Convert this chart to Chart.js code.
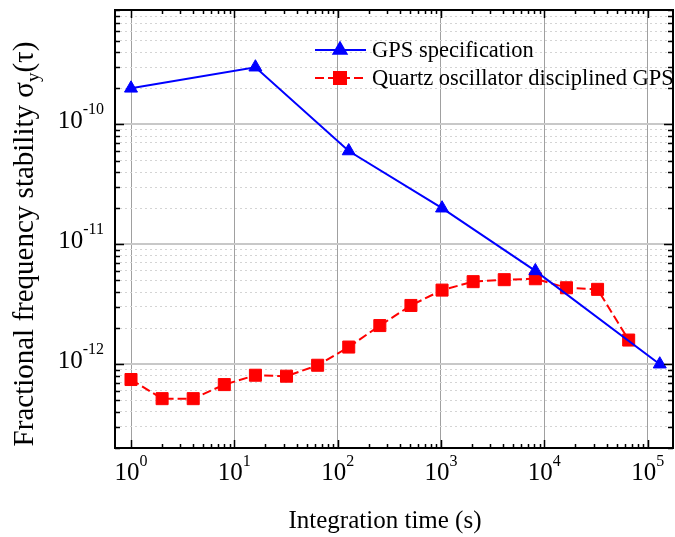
<!DOCTYPE html>
<html>
<head>
<meta charset="utf-8">
<script src="https://cdn.jsdelivr.net/npm/chart.js@4.4.0/dist/chart.umd.min.js"></script>
<style>
  html, body { margin: 0; padding: 0; background: #fff; }
</style>
</head>
<body>
<canvas id="grafico" width="675" height="537"></canvas>
<script>
// datos
const tauGps = [1, 16, 128, 1024, 8192, 131072];
const sigmaGps = [2e-10, 3e-10, 6e-11, 2e-11, 6e-12, 1e-12];
const tauQuartz = [1, 2, 4, 8, 16, 32, 64, 128, 256, 512, 1024, 2048, 4096, 8192, 16384, 32768, 65536];
const sigmaQuartz = [7.45e-13, 5.16e-13, 5.16e-13, 6.76e-13, 8.09e-13, 7.94e-13, 9.8e-13, 1.39e-12, 2.10e-12,
  3.09e-12, 4.15e-12, 4.88e-12, 5.07e-12, 5.16e-12, 4.34e-12, 4.21e-12, 1.59e-12];
const xDecades = [0, 1, 2, 3, 4, 5];
const yDecades = [-13, -12, -11, -10];
const xLabelDecades = [0, 1, 2, 3, 4, 5];
const yLabelDecades = [-12, -11, -10];
const seriesNames = ['GPS specification', 'Quartz oscillator disciplined GPS'];
const xTitle = 'Integration time (s)';
const yTitle = ['Fractional frequency stability σ', 'y', '(τ)'];

const serif = '"Liberation Serif", "Times New Roman", serif';
const xMin = 0.7, xMax = 176000;
const yMin = 2e-13, yMax = 9e-10;

// ticks 1..9 por decada, solo los de 10^n son mayores
const logTicks = (decades, min, max) => {
  const t = [];
  decades.forEach(d => {
    for (let m = 1; m < 10; m++) {
      const v = m * Math.pow(10, d);
      if (v >= min * 0.999 && v <= max * 1.001) t.push({ value: v, major: m === 1 });
    }
  });
  return t;
}

const toPoints = (xs, ys) => xs.map((v, i) => ({ x: v, y: ys[i] }));

const drawPow = (ctx, exp, left, baseline) => {
  ctx.font = '25px ' + serif;
  ctx.fillText('10', left, baseline);
  const wb = ctx.measureText('10').width;
  ctx.font = '16px ' + serif;
  ctx.fillText(String(exp), left + wb, baseline - 14);
}
const powWidth = (ctx, exp) => {
  ctx.font = '25px ' + serif;
  const wb = ctx.measureText('10').width;
  ctx.font = '16px ' + serif;
  return wb + ctx.measureText(String(exp)).width;
}

const ejes = {
  id: 'ejes',
  afterDraw(chart) {
    const { ctx, chartArea: a, scales: { x, y } } = chart;
    ctx.save();
    ctx.strokeStyle = '#000';
    ctx.fillStyle = '#000';

    // marcas hacia adentro en los cuatro lados
    ctx.lineWidth = 1.5;
    ctx.beginPath();
    x.ticks.forEach(t => {
      const px = Math.round(x.getPixelForValue(t.value)) + 0.5;
      const len = t.major ? 8 : 4;
      ctx.moveTo(px, a.bottom); ctx.lineTo(px, a.bottom - len);
      ctx.moveTo(px, a.top); ctx.lineTo(px, a.top + len);
    });
    y.ticks.forEach(t => {
      const py = Math.round(y.getPixelForValue(t.value)) + 0.5;
      const len = t.major ? 9 : 5;
      ctx.moveTo(a.left, py); ctx.lineTo(a.left + len, py);
      ctx.moveTo(a.right, py); ctx.lineTo(a.right - len, py);
    });
    ctx.stroke();

    // marco
    ctx.lineWidth = 2;
    ctx.strokeRect(a.left, a.top, a.right - a.left, a.bottom - a.top);

    // etiquetas 10^n
    ctx.textBaseline = 'alphabetic';
    ctx.textAlign = 'left';
    xLabelDecades.forEach(d => {
      const px = x.getPixelForValue(Math.pow(10, d));
      drawPow(ctx, d, px - powWidth(ctx, d) / 2, 480);
    });
    yLabelDecades.forEach(d => {
      const py = y.getPixelForValue(Math.pow(10, d));
      drawPow(ctx, d, a.left - 11 - powWidth(ctx, d), py + 4);
    });

    // titulo eje x
    ctx.font = '25px ' + serif;
    ctx.textAlign = 'center';
    ctx.fillText(xTitle, 385, 528);

    // titulo eje y con subindice
    ctx.save();
    ctx.translate(33, 244);
    ctx.rotate(-Math.PI / 2);
    ctx.textAlign = 'left';
    ctx.font = '29px ' + serif;
    const w1 = ctx.measureText(yTitle[0]).width;
    const w3 = ctx.measureText(yTitle[2]).width;
    ctx.font = '19px ' + serif;
    const w2 = ctx.measureText(yTitle[1]).width;
    let sx = -(w1 + w2 + w3) / 2;
    ctx.font = '29px ' + serif;
    ctx.fillText(yTitle[0], sx, 0);
    ctx.font = '19px ' + serif;
    ctx.fillText(yTitle[1], sx + w1, 6);
    ctx.font = '29px ' + serif;
    ctx.fillText(yTitle[2], sx + w1 + w2, 0);
    ctx.restore();

    // leyenda
    const rows = [50, 78];
    chart.data.datasets.forEach((ds, i) => {
      const ly = rows[i];
      ctx.save();
      ctx.strokeStyle = ds.borderColor;
      ctx.lineWidth = 2;
      ctx.setLineDash(ds.borderDash || []);
      ctx.beginPath();
      ctx.moveTo(315, ly); ctx.lineTo(366, ly);
      ctx.stroke();
      ctx.setLineDash([]);
      ctx.fillStyle = ds.backgroundColor;
      Chart.helpers.drawPoint(ctx, { pointStyle: ds.pointStyle, radius: ds.pointRadius, borderWidth: 1, rotation: 0 }, 340, ly);
      ctx.restore();
      ctx.font = '22.5px ' + serif;
      ctx.textAlign = 'left';
      ctx.textBaseline = 'middle';
      ctx.fillStyle = '#000';
      ctx.fillText(ds.label, 372, ly + 1);
    });
    ctx.restore();
  }
}

const ctx = document.getElementById('grafico');
const myChart = new Chart(ctx, {
  type: 'line',
  data: {
    datasets: [{
      label: seriesNames[0],
      data: toPoints(tauGps, sigmaGps),
      borderColor: '#0000ff',
      backgroundColor: '#0000ff',
      borderWidth: 2,
      pointStyle: 'triangle',
      pointRadius: 7.5,
      pointBorderWidth: 1,
      tension: 0
    }, {
      label: seriesNames[1],
      data: toPoints(tauQuartz, sigmaQuartz),
      borderColor: '#ff0000',
      backgroundColor: '#ff0000',
      borderWidth: 2,
      borderDash: [9, 4],
      pointStyle: 'rect',
      pointRadius: 8.5,
      pointBorderWidth: 1,
      tension: 0
    }]
  },
  options: {
    responsive: false,
    animation: false,
    layout: { autoPadding: false, padding: { left: 115, top: 10, right: 2, bottom: 89 } },
    plugins: {
      legend: { display: false },
      tooltip: { enabled: false }
    },
    scales: {
      x: {
        type: 'logarithmic',
        min: xMin,
        max: xMax,
        afterBuildTicks: s => { s.ticks = logTicks(xDecades, xMin, xMax); },
        ticks: { display: false },
        grid: {
          drawTicks: false,
          lineWidth: 1,
          color: c => c.tick && c.tick.major ? '#a0a0a0' : 'rgba(0,0,0,0)'
        },
        border: { display: false }
      },
      y: {
        type: 'logarithmic',
        min: yMin,
        max: yMax,
        afterBuildTicks: s => { s.ticks = logTicks(yDecades, yMin, yMax); },
        ticks: { display: false },
        grid: {
          drawTicks: false,
          lineWidth: c => c.tick && c.tick.major ? 2 : 1,
          color: c => c.tick && c.tick.major ? '#c8c8c8' : '#d4d4d4'
        },
        border: {
          display: false,
          dash: c => c.tick && !c.tick.major ? [2, 3] : []
        }
      }
    }
  },
  plugins: [ejes]
});
</script>
</body>
</html>
